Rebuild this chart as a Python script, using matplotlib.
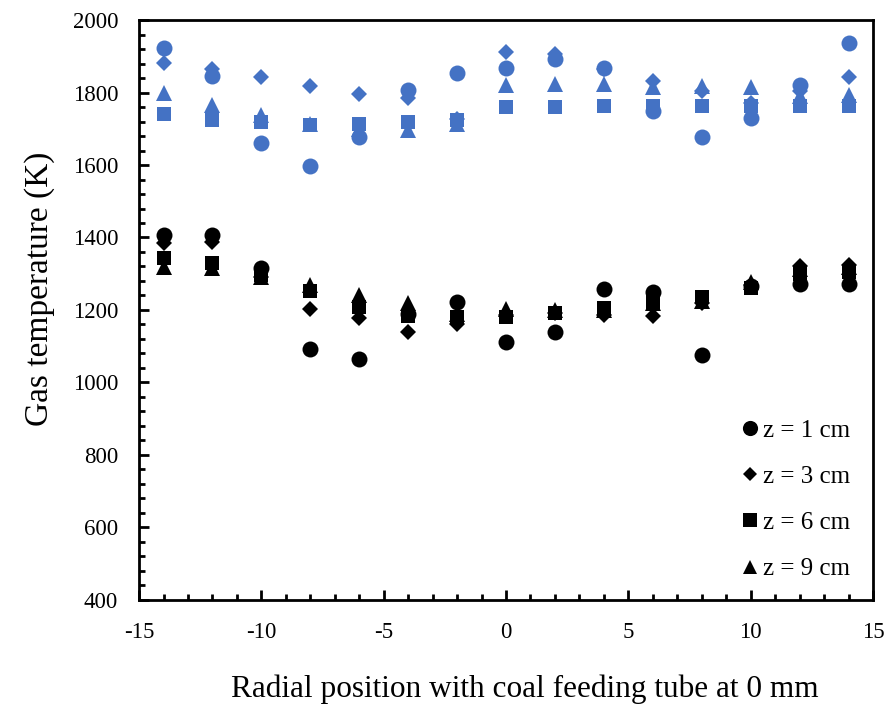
import numpy as np
import matplotlib.pyplot as plt

plt.rcParams['font.family'] = ['Liberation Serif', 'DejaVu Serif']
plt.rcParams['axes.unicode_minus'] = False

# radial positions (mm)
r = [-14, -12, -10, -8, -6, -4, -2, 0, 2, 4, 6, 8, 10, 12, 14]

# case A (black) gas temperatures, K
black_z1 = [1407, 1407, 1316, 1092, 1065, 1190, 1223, 1113, 1139, 1258, 1250, 1076, 1265, 1272, 1273]
black_z3 = [1385, 1387, 1292, 1203, 1177, 1140, 1160, 1185, 1192, 1186, 1184, 1219, 1270, 1320, 1325]
black_z6 = [1343, 1330, 1296, 1253, 1208, 1184, 1181, 1181, 1191, 1206, 1222, 1237, 1262, 1300, 1305]
black_z9 = [1318, 1315, 1290, 1270, 1240, 1219, 1188, 1202, 1200, 1200, 1220, 1225, 1278, 1312, 1318]

# case B (blue) gas temperatures, K
blue_z1 = [1922, 1846, 1662, 1597, 1676, 1807, 1855, 1868, 1892, 1868, 1750, 1677, 1729, 1820, 1936]
blue_z3 = [1882, 1864, 1844, 1818, 1796, 1785, 1728, 1912, 1907, 1865, 1833, 1805, 1770, 1803, 1842]
blue_z6 = [1741, 1724, 1718, 1710, 1713, 1719, 1724, 1761, 1761, 1762, 1762, 1762, 1762, 1762, 1762]
blue_z9 = [1798, 1766, 1738, 1712, 1700, 1697, 1713, 1821, 1823, 1823, 1816, 1818, 1815, 1790, 1793]

labels = ['z = 1 cm', 'z = 3 cm', 'z = 6 cm', 'z = 9 cm']
markers = ['o', 'D', 's', '^']
sizes = [11.5, 8, 10.5, 11]
blue = '#4472C4'

fig = plt.figure(figsize=(8.89, 7.05), dpi=100)
ax = fig.add_axes([0.1564, 0.149, 0.8256, 0.8226])

for vals, m, s in zip([blue_z1, blue_z3, blue_z6, blue_z9], markers, sizes):
    ax.plot(r, vals, linestyle='none', marker=m, markersize=s, color=blue,
            markeredgewidth=0)

for vals, m, s, lab in zip([black_z1, black_z3, black_z6, black_z9], markers, sizes, labels):
    ax.plot(r, vals, linestyle='none', marker=m, markersize=s, color='black',
            markeredgewidth=0, label=lab)

ax.set_xlim(-15, 15)
ax.set_ylim(400, 2000)
ax.set_xticks(np.arange(-15, 16, 5))
ax.set_xticks(np.arange(-15, 16, 1), minor=True)
ax.set_yticks(np.arange(400, 2001, 200))
ax.set_yticks(np.arange(400, 2001, 40), minor=True)
ax.tick_params(which='both', direction='in', labelsize=16.5, width=2, colors='black')
ax.tick_params(which='major', length=7)
ax.tick_params(which='minor', length=4.5)
ax.tick_params(axis='y', which='major', pad=15)
ax.tick_params(axis='x', which='major', pad=16)
for sp in ax.spines.values():
    sp.set_linewidth(2)

fig.text(0.59, 0.002, 'Radial position with coal feeding tube at 0 mm', fontsize=22.5,
         ha='center', va='bottom')
fig.text(0.045, 0.59, 'Gas temperature (K)', fontsize=24, rotation=90,
         ha='center', va='center')

leg = ax.legend(loc='lower right', bbox_to_anchor=(1.0, -0.005), frameon=False,
                fontsize=18, handletextpad=0.0, labelspacing=0.95, handlelength=1.1,
                markerscale=0.95)

fig.savefig('out.png', dpi=100)
